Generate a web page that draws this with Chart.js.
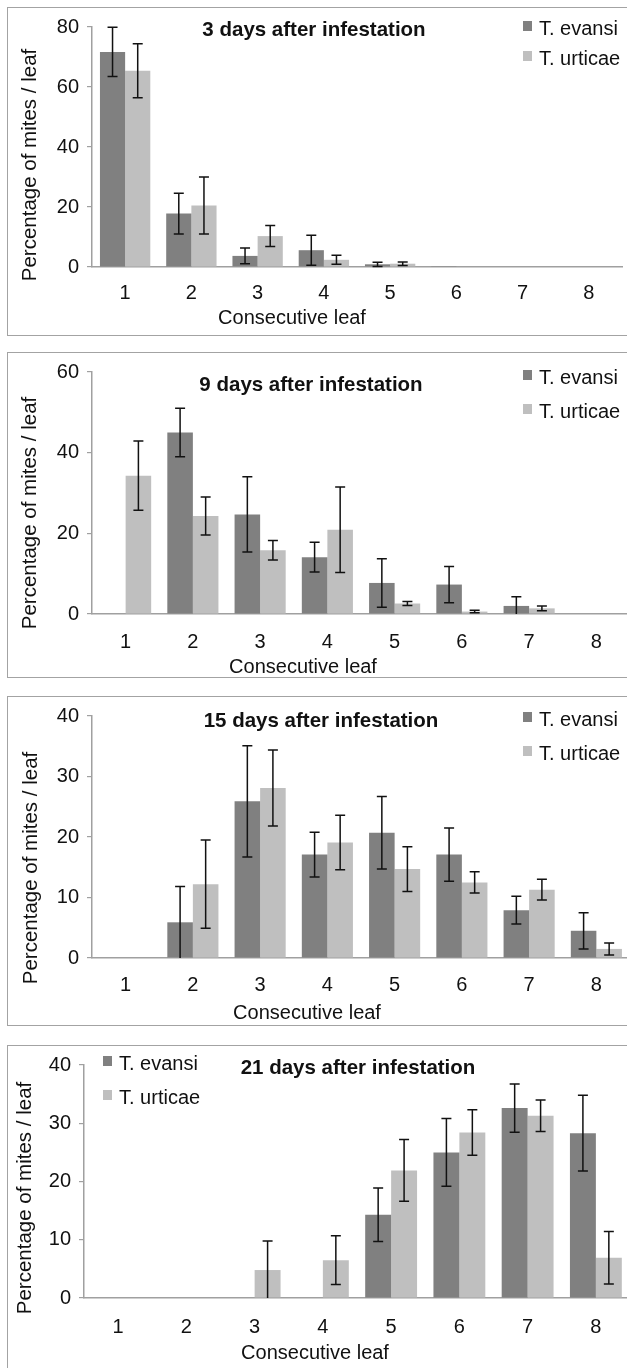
<!DOCTYPE html>
<html>
<head>
<meta charset="utf-8">
<script src="https://cdn.jsdelivr.net/npm/chart.js@4.4.0/dist/chart.umd.min.js"></script>
<style>
  html, body { margin: 0; padding: 0; background: #fff; overflow: hidden; }
  #page  { position: relative; width: 627px; height: 1368px; overflow: hidden; }
  .frame { position: absolute; left: 7px; width: 700px; border: 1.5px solid #a3a3a3; box-sizing: border-box; }
  .wrap  { position: absolute; left: 0; width: 640px; }
</style>
</head>
<body>
<div id="page"></div>

<script>
/* ═══════════════════════════════════════════════
   DATA  —  % of mites per leaf (mean ± error)
═══════════════════════════════════════════════ */
const leaves = ['1', '2', '3', '4', '5', '6', '7', '8'];

const evansi3     = [71.7, 17.8, 3.7, 5.6, 0.9, 0.3, 0, 0];
const evansi3Err  = [8.2, 6.8, 2.6, 5.0, 0.7, 0, 0, 0];
const urticae3    = [65.4, 20.5, 10.3, 2.4, 1.1, 0, 0, 0];
const urticae3Err = [9.0, 9.5, 3.5, 1.5, 0.6, 0, 0, 0];

const evansi9     = [0, 45.0, 24.7, 14.1, 7.7, 7.3, 2.0, 0];
const evansi9Err  = [0, 6.0, 9.3, 3.7, 6.0, 4.5, 2.3, 0];
const urticae9    = [34.3, 24.3, 15.8, 20.9, 2.6, 0.6, 1.4, 0];
const urticae9Err = [8.6, 4.7, 2.4, 10.6, 0.5, 0.3, 0.6, 0];

const evansi15     = [0, 5.9, 25.9, 17.1, 20.7, 17.1, 7.9, 4.5];
const evansi15Err  = [0, 5.9, 9.2, 3.7, 6.0, 4.4, 2.3, 3.0];
const urticae15    = [0, 12.2, 28.1, 19.1, 14.7, 12.5, 11.3, 1.5];
const urticae15Err = [0, 7.3, 6.3, 4.5, 3.7, 1.75, 1.7, 1.0];

const evansi21     = [0, 0, 0, 0, 14.3, 25.0, 32.6, 28.3];
const evansi21Err  = [0, 0, 0, 0, 4.6, 5.8, 4.15, 6.5];
const urticae21    = [0, 0, 4.8, 6.5, 21.9, 28.4, 31.3, 6.9];
const urticae21Err = [0, 0, 5.0, 4.2, 5.3, 3.9, 2.7, 4.5];

const titles  = ['3 days after infestation', '9 days after infestation',
                 '15 days after infestation', '21 days after infestation'];
const yMaxes  = [80, 60, 40, 40];
const ySteps  = [20, 20, 10, 10];

/* ── LOOK ── */
const FONT      = '"Liberation Sans", Arial, sans-serif';
const DARK      = '#808080';
const LIGHT     = '#bfbfbf';
const AXIS_GREY = '#a0a0a0';

/* ── PANEL LAYOUT (page pixels) ── */
const panels = [
  { top: 7,    h: 329, area: { t: 20,   b: 267,  l: 92, r: 622 }, tickY: 293,
    title: [314, 30],   legend: [523, 28, 58],     xTitle: [292, 318],  yTitle: [30, 165] },
  { top: 352,  h: 326, area: { t: 365,  b: 614,  l: 92, r: 630 }, tickY: 642,
    title: [311, 385],  legend: [523, 377, 411],   xTitle: [303, 667],  yTitle: [30, 513] },
  { top: 696,  h: 330, area: { t: 715,  b: 958,  l: 92, r: 630 }, tickY: 985,
    title: [321, 721],  legend: [523, 719, 753],   xTitle: [307, 1013], yTitle: [31, 868] },
  { top: 1045, h: 330, area: { t: 1063, b: 1298, l: 84, r: 630 }, tickY: 1327,
    title: [358, 1068], legend: [103, 1063, 1097], xTitle: [315, 1353], yTitle: [25, 1198] }
];

const series = [
  [evansi3,  evansi3Err,  urticae3,  urticae3Err],
  [evansi9,  evansi9Err,  urticae9,  urticae9Err],
  [evansi15, evansi15Err, urticae15, urticae15Err],
  [evansi21, evansi21Err, urticae21, urticae21Err]
];

/* ═══════════════════════════════════════════════
   PLUGIN — error bars from the bar elements
═══════════════════════════════════════════════ */
const errorBars = {
  id: 'errorBars',
  afterDatasetsDraw(chart) {
    const { ctx } = chart;
    const y = chart.scales.y;
    ctx.save();
    ctx.strokeStyle = '#111';
    ctx.lineWidth   = 1.5;
    chart.data.datasets.forEach((ds, i) => {
      chart.getDatasetMeta(i).data.forEach((bar, j) => {
        const v = ds.data[j], e = ds.err[j];
        if (!e) return;
        const lo  = v - e;
        const yT  = y.getPixelForValue(v + e);
        const yB  = y.getPixelForValue(Math.max(0, lo));
        ctx.beginPath();
        ctx.moveTo(bar.x, yT);     ctx.lineTo(bar.x, yB);
        ctx.moveTo(bar.x - 5, yT); ctx.lineTo(bar.x + 5, yT);
        if (lo > 0) { ctx.moveTo(bar.x - 5, yB); ctx.lineTo(bar.x + 5, yB); }
        ctx.stroke();
      });
    });
    ctx.restore();
  }
};

/* ═══════════════════════════════════════════════
   PLUGIN — title, in-plot legend, axis titles
═══════════════════════════════════════════════ */
const panelText = {
  id: 'panelText',
  afterDraw(chart, args, o) {
    const { ctx } = chart;
    const dy = o.top;
    ctx.save();
    ctx.fillStyle    = '#111';
    ctx.textBaseline = 'middle';

    ctx.font      = 'bold 20.5px ' + FONT;
    ctx.textAlign = 'center';
    ctx.fillText(o.title, o.pos.title[0], o.pos.title[1] - dy);

    ctx.font = '20px ' + FONT;
    ctx.fillText('Consecutive leaf', o.pos.xTitle[0], o.pos.xTitle[1] - dy);

    ctx.save();
    ctx.translate(o.pos.yTitle[0], o.pos.yTitle[1] - dy);
    ctx.rotate(-Math.PI / 2);
    ctx.font = '20.5px ' + FONT;
    ctx.fillText('Percentage of mites / leaf', 0, 0);
    ctx.restore();

    const [lx, ly1, ly2] = o.pos.legend;
    ctx.font      = '20px ' + FONT;
    ctx.textAlign = 'left';
    chart.data.datasets.forEach((ds, i) => {
      const ly = (i === 0 ? ly1 : ly2) - dy;
      ctx.fillStyle = ds.backgroundColor;
      ctx.fillRect(lx, ly - 7, 9, 10);
      ctx.fillStyle = '#111';
      ctx.fillText(ds.label, lx + 16, ly + 1);
    });
    ctx.restore();
  }
};

/* ═══════════════════════════════════════════════
   BUILD ONE PANEL
═══════════════════════════════════════════════ */
function buildPanel(p, k) {
  const page = document.getElementById('page');

  const frame = document.createElement('div');
  frame.className    = 'frame';
  frame.style.top    = p.top + 'px';
  frame.style.height = p.h + 'px';
  page.appendChild(frame);

  const wrap = document.createElement('div');
  wrap.className    = 'wrap';
  wrap.style.top    = p.top + 'px';
  wrap.style.height = p.h + 'px';
  const canvas = document.createElement('canvas');
  wrap.appendChild(canvas);
  page.appendChild(wrap);

  const [ev, evErr, ur, urErr] = series[k];
  const areaBottom = p.area.b - p.top;
  const tickPad    = p.tickY - p.area.b - 12;

  new Chart(canvas.getContext('2d'), {
    type: 'bar',
    data: {
      labels: leaves,
      datasets: [
        { label: 'T. evansi',  data: ev, err: evErr, backgroundColor: DARK },
        { label: 'T. urticae', data: ur, err: urErr, backgroundColor: LIGHT }
      ]
    },
    options: {
      responsive:          true,
      maintainAspectRatio: false,
      animation:           false,
      devicePixelRatio:    1,
      datasets: { bar: { categoryPercentage: 0.76, barPercentage: 1.0 } },
      layout: { padding: { top: p.area.t - p.top, right: 640 - p.area.r, left: 0, bottom: 0 } },
      plugins: {
        legend:  { display: false },
        tooltip: { enabled: false },
        panelText: { title: titles[k], pos: p, top: p.top }
      },
      scales: {
        x: {
          grid:   { display: false, drawTicks: false },
          border: { display: true, color: AXIS_GREY, width: 1.5 },
          ticks:  { font: { family: FONT, size: 20 }, color: '#111', padding: tickPad, maxRotation: 0 },
          afterFit(s) { s.height = p.h - areaBottom; }
        },
        y: {
          min: 0,
          max: yMaxes[k],
          grid:   { drawOnChartArea: false, drawTicks: true, tickLength: 5, color: AXIS_GREY, lineWidth: 1.2 },
          border: { display: true, color: AXIS_GREY, width: 1.5 },
          ticks:  { stepSize: ySteps[k], font: { family: FONT, size: 20 }, color: '#111', padding: 8 },
          afterFit(s) { s.width = p.area.l; }
        }
      }
    },
    plugins: [errorBars, panelText]
  });
}

/* ═══════════════════════════════════════════════
   INIT
═══════════════════════════════════════════════ */
panels.forEach(buildPanel);
</script>
</body>
</html>
